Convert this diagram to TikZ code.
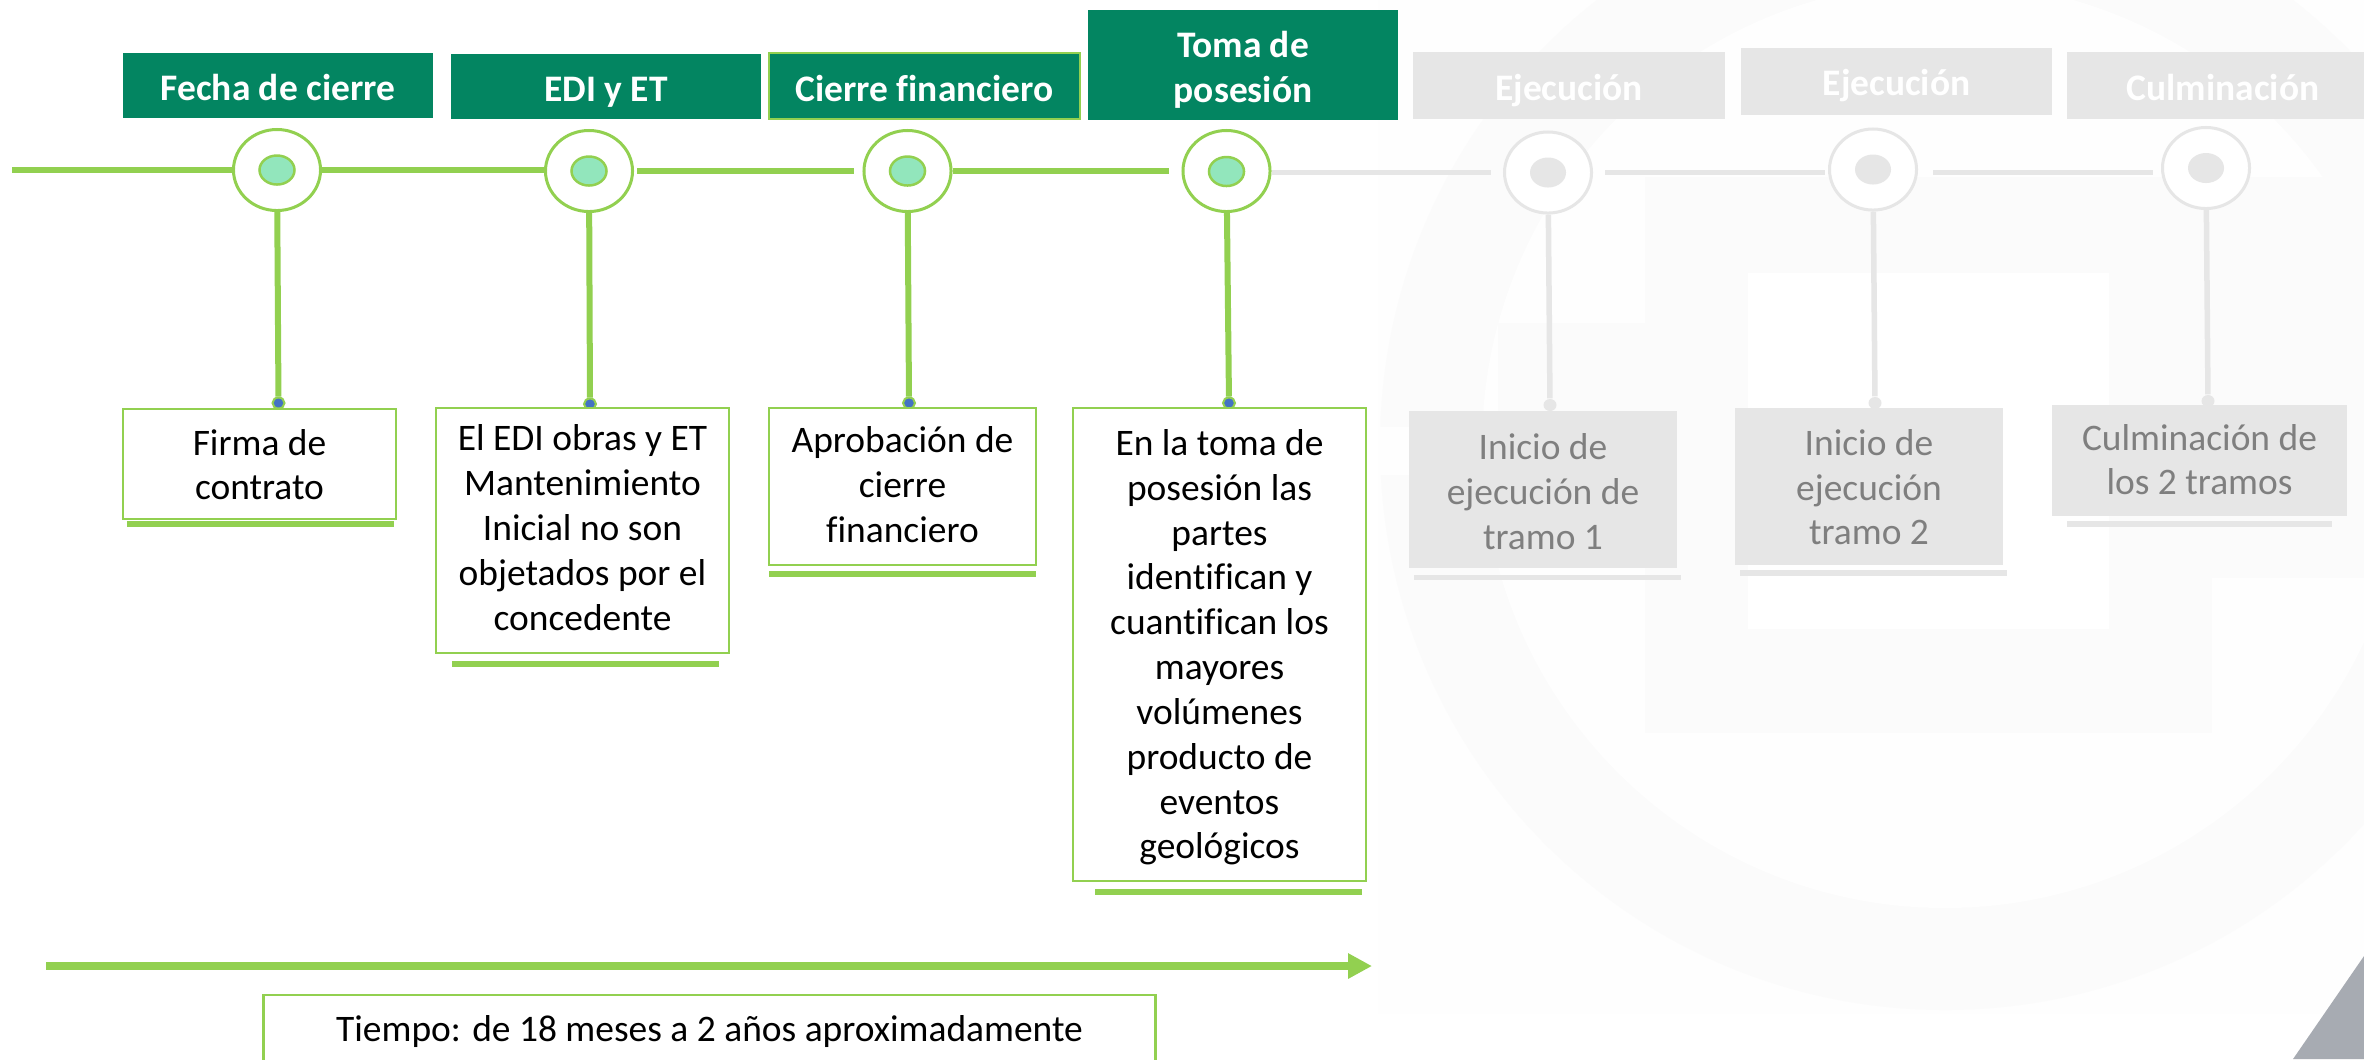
\documentclass[tikz,border=0pt]{standalone}
\usepackage{fontspec}
\setmainfont{Carlito}[Ligatures=NoCommon]
\usetikzlibrary{arrows.meta,shapes.geometric}
\definecolor{headgreen}{HTML}{038561}
\definecolor{linegreen}{HTML}{92D050}
\definecolor{dotgreen}{HTML}{92E6BC}
\definecolor{dotblue}{HTML}{4472C4}
\definecolor{fadegrey}{HTML}{E6E6E6}
\definecolor{fadetext}{HTML}{7F7F7F}
\definecolor{markpale}{HTML}{FBFBFB}
\definecolor{panelpale}{HTML}{FEFEFE}
\definecolor{cornergrey}{HTML}{A7ABB2}
\newcommand{\tallstrut}[1]{\rule{0pt}{#1pt}}
\begin{document}
\begin{tikzpicture}[x=0.01cm, y=-0.01cm,
	bodyfont/.style={font=\fontsize{10.65}{12.75}\selectfont, align=center, inner sep=0},
	greenhead/.style={rectangle, fill=headgreen, text=white, bodyfont, font=\fontsize{10.65}{12.75}\selectfont\bfseries},
	greyhead/.style={rectangle, fill=fadegrey, text=white, bodyfont, font=\fontsize{10.65}{12.75}\selectfont\bfseries},
	greenbox/.style={rectangle, draw=linegreen, line width=0.025cm, fill=white, bodyfont},
	greybox/.style={rectangle, fill=fadegrey, text=fadetext, bodyfont},
	greenring/.style={ellipse, draw=linegreen, line width=0.03cm, fill=white, inner sep=0, minimum width=0.87cm, minimum height=0.81cm},
	greyring/.style={ellipse, draw=fadegrey, line width=0.03cm, fill=white, inner sep=0, minimum width=0.87cm, minimum height=0.81cm},
	greencore/.style={ellipse, draw=linegreen, line width=0.025cm, fill=dotgreen, inner sep=0, minimum width=0.35cm, minimum height=0.29cm},
	greycore/.style={ellipse, fill=fadegrey, inner sep=0, minimum width=0.36cm, minimum height=0.30cm},
	greenend/.style={ellipse, draw=linegreen, line width=0.02cm, fill=dotblue, inner sep=0, minimum width=0.12cm, minimum height=0.11cm},
	greyend/.style={ellipse, fill=fadegrey, inner sep=0, minimum width=0.13cm, minimum height=0.12cm},
	greenrule/.style={rectangle, fill=linegreen, inner sep=0, minimum height=0.06cm},
	greyrule/.style={rectangle, fill=fadegrey, inner sep=0, minimum height=0.055cm},
	greenline/.style={draw=linegreen, line width=0.06cm},
	greyline/.style={draw=fadegrey, line width=0.055cm},
	timearrow/.style={draw=linegreen, line width=0.08cm, -{Triangle[length=0.24cm,width=0.24cm]}}]
	\clip (0,0) rectangle (2364,1059);
	\fill[panelpale] (1378,0) rectangle (2364,1014);
	\begin{scope}
		\clip (1378,0) rectangle (2364,1014);
		\fill[markpale] (1945,445) circle (565);
		\fill[panelpale] (1945,445) circle (463);
	\end{scope}
	\fill[markpale] (1645,177) rectangle (2364,578);
	\fill[markpale] (1645,578) rectangle (2212,733);
	\fill[markpale] (1498,323) rectangle (1645,427);
	\fill[panelpale] (1378,427) rectangle (1645,475);
	\fill[white] (1748,273) rectangle (2109,629);
	\fill[cornergrey] (2293,1059) -- (2364,956) -- (2364,1059) -- cycle;

	\node (head1) at (278,85.5) [greenhead, minimum width=3.10cm, minimum height=0.65cm] {\tallstrut{12.4}Fecha de cierre\strut};
	\node (head2) at (606,86.5) [greenhead, minimum width=3.10cm, minimum height=0.65cm] {\tallstrut{12.4}EDI y ET\strut};
	\node (head3) at (924.5,86) [greenhead, draw=linegreen, line width=0.02cm, minimum width=3.10cm, minimum height=0.66cm] {\tallstrut{12.4}Cierre financiero\strut};
	\node (head4) at (1243,65) [greenhead, minimum width=3.10cm, minimum height=1.10cm] {\tallstrut{12.4}Toma de\\posesión\strut};
	\node (head5) at (1569,85.5) [greyhead, minimum width=3.12cm, minimum height=0.67cm] {\tallstrut{12.4}Ejecución\strut};
	\node (head6) at (1896.5,81.5) [greyhead, minimum width=3.11cm, minimum height=0.67cm] {\tallstrut{11.5}Ejecución\strut};
	\node (head7) at (2223,85.5) [greyhead, minimum width=3.12cm, minimum height=0.67cm] {\tallstrut{12.4}Culminación\strut};

	\node (ring1) at (277,170) [greenring] {};
	\node (ring2) at (589,171) [greenring] {};
	\node (ring3) at (907.5,171) [greenring] {};
	\node (ring4) at (1226.5,171) [greenring] {};
	\node (ring5) at (1548,172.5) [greyring] {};
	\node (ring6) at (1873,169.5) [greyring] {};
	\node (ring7) at (2206,168) [greyring] {};
	\node (core1) at (277,170) [greencore] {};
	\node (core2) at (589,171) [greencore] {};
	\node (core3) at (907.5,171) [greencore] {};
	\node (core4) at (1226.5,171.5) [greencore] {};
	\node (core5) at (1548,172.5) [greycore] {};
	\node (core6) at (1873,169.5) [greycore] {};
	\node (core7) at (2206,168) [greycore] {};

	\coordinate (linestart) at (12,170);
	\draw[greenline] (linestart) -- (ring1);
	\draw[greenline] (ring1.east) -- (ring2.west |- ring1.east);
	\draw[greenline, shorten <=0.03cm, shorten >=0.08cm] (ring2.east) -- (ring3.west |- ring2.east);
	\draw[greenline, shorten >=0.12cm, yshift=-0.02cm] (ring3) -- (ring4);
	\draw[greyline, shorten >=0.12cm] (ring4.east |- ring5) -- (ring5);
	\draw[greyline, shorten <=0.12cm, shorten >=0.03cm] (ring5) -- (ring6.west |- ring5);
	\draw[greyline, shorten <=0.15cm, shorten >=0.08cm] (ring6.east |- ring5) -- (ring7.west |- ring5);

	\node (end1) at (278.5,403) [greenend] {};
	\node (end2) at (590,404) [greenend] {};
	\node (end3) at (909,403) [greenend] {};
	\node (end4) at (1229,403) [greenend] {};
	\node (end5) at (1550,405) [greyend] {};
	\node (end6) at (1875,403) [greyend] {};
	\node (end7) at (2208,401) [greyend] {};
	\draw[greenline] (ring1) -- (end1);
	\draw[greenline] (ring2) -- (end2);
	\draw[greenline] (ring3) -- (end3);
	\draw[greenline] (ring4) -- (end4);
	\draw[greyline] (ring5) -- (end5);
	\draw[greyline] (ring6) -- (end6);
	\draw[greyline] (ring7) -- (end7);

	\node (text1) at (259.5,464) [greenbox, minimum width=2.73cm, minimum height=1.10cm] {\tallstrut{11.5}Firma de\\contrato\strut};
	\node (text2) at (582.5,530.5) [greenbox, minimum width=2.93cm, minimum height=2.45cm] {\tallstrut{9.4}El EDI obras y ET\\Mantenimiento\\Inicial no son\\objetados por el\\concedente\strut};
	\node (text3) at (902.5,486.5) [greenbox, minimum width=2.67cm, minimum height=1.57cm] {\tallstrut{10.2}Aprobación de\\cierre\\financiero\strut};
	\node (text4) at (1219.5,644.5) [greenbox, minimum width=2.93cm, minimum height=4.73cm] {\tallstrut{11}En la toma de\\posesión las\\partes\\identifican y\\cuantifican los\\mayores\\volúmenes\\producto de\\eventos\\geológicos\strut};
	\node (text5) at (1543,489.5) [greybox, minimum width=2.68cm, minimum height=1.57cm] {\tallstrut{12.4}Inicio de\\ejecución de\\tramo 1\strut};
	\node (text6) at (1869,486.5) [greybox, minimum width=2.68cm, minimum height=1.57cm] {\tallstrut{11.5}Inicio de\\ejecución\\tramo 2\strut};
	\node (text7) at (2199.5,460.5) [greybox, minimum width=2.95cm, minimum height=1.11cm] {\tallstrut{10.6}Culminación de\\los 2 tramos\strut};

	\node (rule1) at (260.5,524) [greenrule, minimum width=2.67cm] {};
	\node (rule2) at (585.5,663.5) [greenrule, minimum width=2.67cm] {};
	\node (rule3) at (902.5,574) [greenrule, minimum width=2.67cm] {};
	\node (rule4) at (1228.5,891.5) [greenrule, minimum width=2.67cm] {};
	\node (rule5) at (1547.5,577.5) [greyrule, minimum width=2.67cm] {};
	\node (rule6) at (1873.5,573) [greyrule, minimum width=2.67cm] {};
	\node (rule7) at (2199.5,524) [greyrule, minimum width=2.65cm] {};

	\coordinate (timestart) at (46,966);
	\coordinate (timeend) at (1372,966);
	\draw[timearrow] (timestart) -- (timeend);
	\node (timebox) at (709.5,1030) [greenbox, minimum width=8.91cm, minimum height=0.70cm] {\tallstrut{10.6}Tiempo: de 18 meses a 2 años aproximadamente\strut};
\end{tikzpicture}
\end{document}
